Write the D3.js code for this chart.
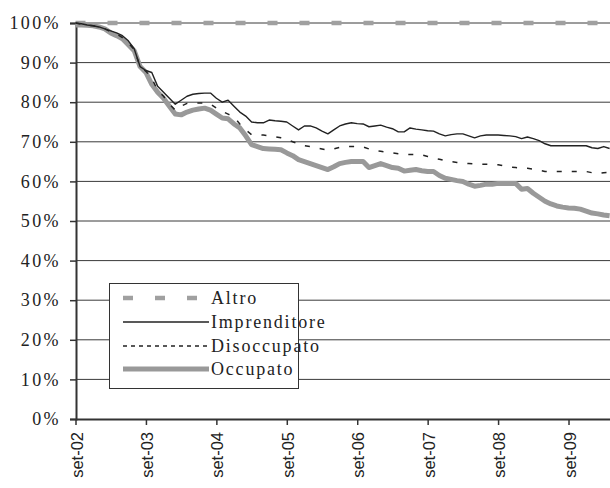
<!DOCTYPE html>
<html>
<head>
<meta charset="utf-8">
<script src="https://cdn.jsdelivr.net/npm/d3@7"></script>
<style>
  body { margin: 0; background: #fff; }
  svg { display: block; }
</style>
</head>
<body>
<script>
// Monthly series, set-02 (index 0) to apr-10 (index 91)
var tickMonths = [0, 12, 24, 36, 48, 60, 72, 84];
var tickLabels = ["set-02", "set-03", "set-04", "set-05", "set-06", "set-07", "set-08", "set-09"];
var yTicks = [0, 10, 20, 30, 40, 50, 60, 70, 80, 90, 100];

var seriesNames = ["Altro", "Imprenditore", "Disoccupato", "Occupato"];

var altro = [
  100, 100, 100, 100, 100, 100, 100, 100, 100, 100, 100, 100, 100, 100, 100, 100,
  100, 100, 100, 100, 100, 100, 100, 100, 100, 100, 100, 100, 100, 100, 100, 100,
  100, 100, 100, 100, 100, 100, 100, 100, 100, 100, 100, 100, 100, 100, 100, 100,
  100, 100, 100, 100, 100, 100, 100, 100, 100, 100, 100, 100, 100, 100, 100, 100,
  100, 100, 100, 100, 100, 100, 100, 100, 100, 100, 100, 100, 100, 100, 100, 100,
  100, 100, 100, 100, 100, 100, 100, 100, 100, 100, 100, 100
];

var imprenditore = [
  100, 99.8, 99.5, 99.3, 99, 98.5, 98, 97.5, 96.8, 95.5, 93.5, 89,
  88, 87.5, 84, 82.5, 81, 79.5, 80.5, 81.5, 82, 82.2, 82.3, 82.3,
  81, 80, 80.5, 79, 77.5, 76.5, 75, 74.8, 74.8, 75.5, 75.3, 75.2,
  75, 74, 73, 74, 74, 73.5, 72.7, 72, 73, 74, 74.5, 74.8,
  74.6, 74.5, 73.8, 74, 74.2, 73.7, 73.3, 72.5, 72.5, 73.5, 73.2, 73,
  72.8, 72.7, 72, 71.5, 71.8, 72, 72, 71.5, 71, 71.5, 71.7, 71.7,
  71.7, 71.6, 71.5, 71.3, 70.8, 71.2, 70.8, 70.3, 69.5, 69, 69, 69,
  69, 69, 69, 69, 68.5, 68.3, 68.8, 68.3
];

var disoccupato = [
  100, 99.7, 99.4, 99.3, 99, 98.5, 97.8, 97.2, 96.3, 95, 93.3, 89,
  87.8, 86, 83, 81.5, 79.5, 78, 79, 79.7, 79.8, 79.8, 79.8, 79.5,
  78.5, 77.7, 77, 76.3, 74.5, 73, 71.8, 71.8, 71.7, 71.5, 71.3, 71,
  70.6, 70, 69.5, 69, 68.8, 68.5, 68.2, 67.9, 68.2, 68.6, 68.8, 68.8,
  68.8, 68.7, 68.2, 67.8, 67.6, 67.4, 67.2, 67, 66.8, 66.8, 66.8, 66.7,
  66.3, 65.9, 65.6, 65.2, 65, 64.8, 64.6, 64.5, 64.4, 64.3, 64.3, 64.3,
  64.2, 63.9, 63.6, 63.5, 63.4, 63.3, 63.1, 62.8, 62.5, 62.5, 62.5, 62.5,
  62.5, 62.5, 62.5, 62.5, 62.2, 62, 62.2, 62.3
];

var occupato = [
  99.5, 99.5, 99.4, 99.3, 99, 98.5, 97.5, 96.8, 96, 94.5, 93, 89,
  87.5, 84.5, 82.5, 81, 79, 77, 76.8, 77.5, 78, 78.3, 78.5, 78,
  77, 76, 75.8, 74.5, 73.5, 71.5, 69.3, 68.8, 68.3, 68.2, 68.1, 68,
  67.2, 66.5, 65.5, 65, 64.5, 64, 63.5, 63, 63.7, 64.5, 64.8, 65,
  65, 65, 63.5, 64, 64.5, 64, 63.5, 63.3, 62.6, 62.8, 63, 62.7,
  62.5, 62.5, 61.5, 60.8, 60.5, 60.2, 60, 59.3, 58.8, 59, 59.3, 59.3,
  59.5, 59.5, 59.5, 59.5, 58, 58.2, 57, 56, 55, 54.3, 53.8, 53.5,
  53.3, 53.2, 53, 52.5, 52, 51.8, 51.5, 51.3
];

var width = 610, height = 488;

var svg = d3.select("body").append("svg")
    .attr("width", width)
    .attr("height", height);

// Scales
var x = d3.scaleLinear()
    .domain([0, 91])
    .range([75.5, 609.6]);
var y = d3.scaleLinear()
    .domain([0, 100])
    .range([419, 23]);

// Gridlines
svg.append("g")
  .selectAll("line")
    .data(yTicks.slice(1))
  .enter().append("line")
    .attr("x1", 76)
    .attr("x2", width)
    .attr("y1", function(d) { return y(d); })
    .attr("y2", function(d) { return y(d); })
    .attr("stroke", "#3a3a3a")
    .attr("stroke-width", 1);

// Y axis
var yAxis = svg.append("g")
    .attr("transform", "translate(76,0)")
    .call(d3.axisLeft(y)
      .tickValues(yTicks)
      .tickSize(6)
      .tickPadding(9)
      .tickFormat(function(d) { return d + "%"; }));
yAxis.select(".domain").attr("stroke", "#333").attr("stroke-width", 2);
yAxis.selectAll(".tick line").attr("stroke", "#333").attr("stroke-width", 1.5);
yAxis.selectAll("text")
    .attr("fill", "#222")
    .style("font-family", "'Liberation Serif', serif")
    .style("font-size", "18px")
    .style("letter-spacing", "2.4px");

// X axis
var xAxis = svg.append("g")
    .attr("transform", "translate(0,419)")
    .call(d3.axisBottom(x)
      .tickValues(tickMonths)
      .tickSize(6)
      .tickSizeOuter(0)
      .tickFormat(function(d, i) { return tickLabels[i]; }));
xAxis.select(".domain").attr("stroke", "#333").attr("stroke-width", 2);
xAxis.selectAll(".tick line").attr("stroke", "#333").attr("stroke-width", 1.5);
xAxis.selectAll("text")
    .attr("transform", "rotate(-90)")
    .attr("x", -13)
    .attr("y", 0)
    .attr("dy", "0.4em")
    .style("text-anchor", "end")
    .attr("fill", "#222")
    .style("font-family", "'Liberation Sans', Arial, sans-serif")
    .style("font-size", "16.5px");

// Series styles
var styles = {
  Altro: {data: altro, color: "#a0a0a0", w: 4.5, dash: "10,22", legendDash: "10,22"},
  Imprenditore: {data: imprenditore, color: "#222", w: 1.4, dash: null, legendDash: null},
  Disoccupato: {data: disoccupato, color: "#222", w: 1.5, dash: "5,10", legendDash: "4,4"},
  Occupato: {data: occupato, color: "#999", w: 5, dash: null, legendDash: null}
};

var line = d3.line()
    .x(function(d, i) { return x(i); })
    .y(function(d) { return y(d); });

// Draw order: Altro, Occupato, Disoccupato, Imprenditore
["Altro", "Occupato", "Disoccupato", "Imprenditore"].forEach(function(name) {
  var s = styles[name];
  svg.append("path")
      .datum(s.data)
      .attr("fill", "none")
      .attr("stroke", s.color)
      .attr("stroke-width", s.w)
      .attr("stroke-dasharray", s.dash)
      .attr("stroke-linejoin", "round")
      .attr("d", line);
});

// Legend
var legend = svg.append("g");
legend.append("rect")
    .attr("x", 109.5)
    .attr("y", 283.5)
    .attr("width", 189)
    .attr("height", 105)
    .attr("fill", "#fff")
    .attr("stroke", "#333")
    .attr("stroke-width", 1);

var rowY = [298, 322, 346, 369];
seriesNames.forEach(function(name, i) {
  var s = styles[name];
  legend.append("line")
      .attr("x1", 123)
      .attr("x2", 209)
      .attr("y1", rowY[i])
      .attr("y2", rowY[i])
      .attr("stroke", s.color)
      .attr("stroke-width", s.w)
      .attr("stroke-dasharray", s.legendDash);
  legend.append("text")
      .attr("x", 211)
      .attr("y", rowY[i])
      .attr("dy", "0.35em")
      .attr("fill", "#222")
      .style("font-family", "'Liberation Serif', serif")
      .style("font-size", "18px")
      .style("letter-spacing", "1.8px")
      .text(name);
});
</script>
</body>
</html>
